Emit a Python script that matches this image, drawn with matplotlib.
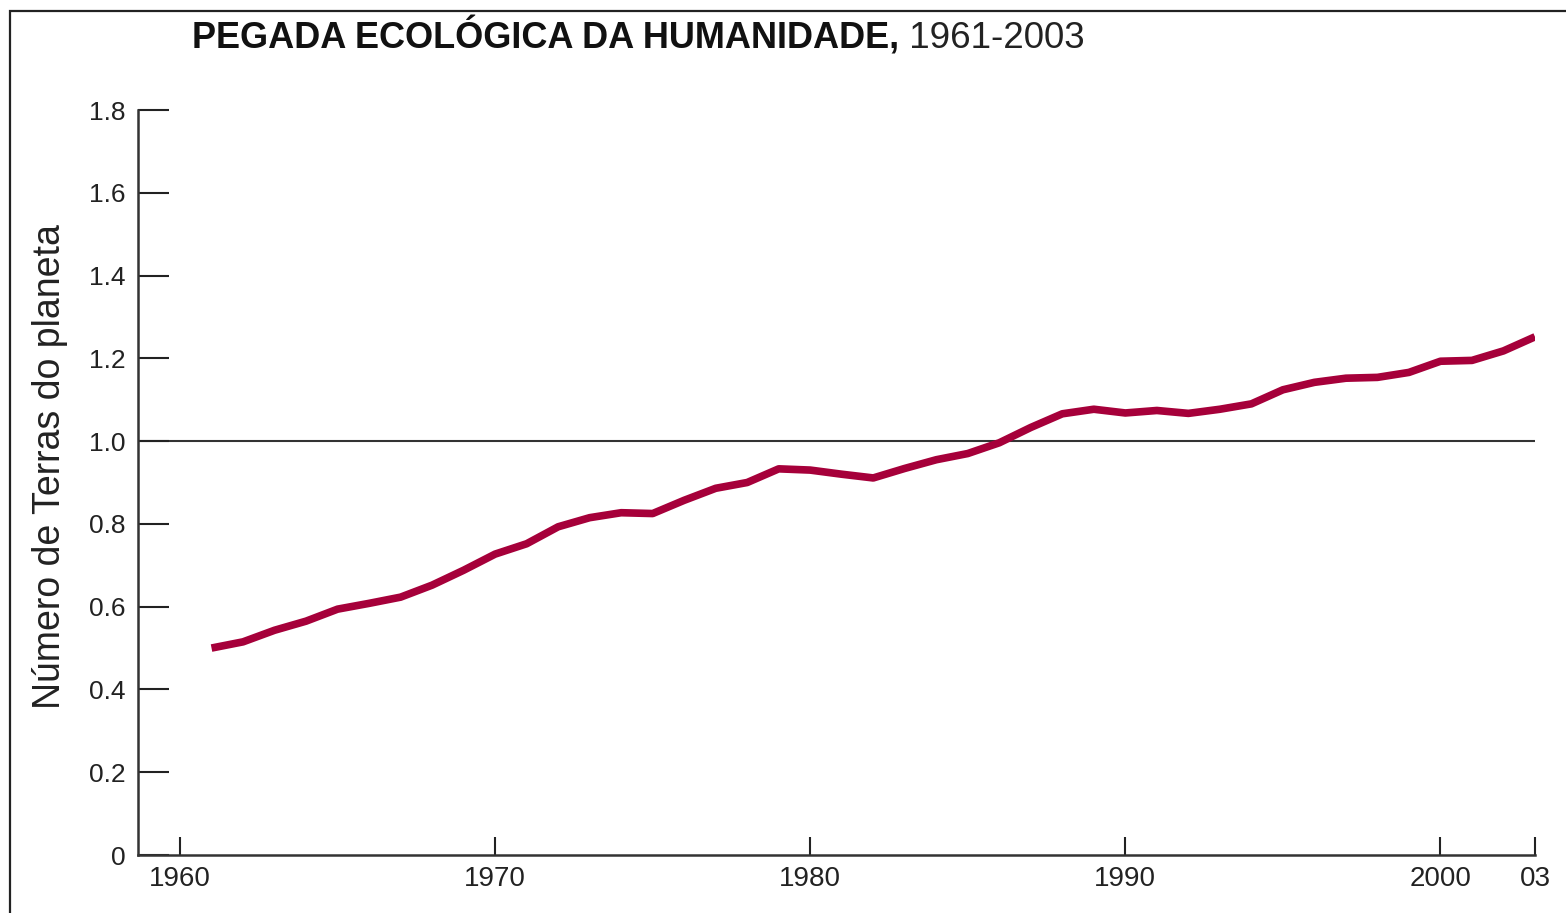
import matplotlib
matplotlib.use("Agg")
import matplotlib.pyplot as plt
from matplotlib.patches import Rectangle

years = list(range(1961, 2004))
earths = [0.500, 0.515, 0.543, 0.565, 0.594, 0.608, 0.623, 0.652, 0.688, 0.727,
          0.752, 0.793, 0.815, 0.827, 0.825, 0.857, 0.886, 0.900, 0.933, 0.930,
          0.920, 0.911, 0.934, 0.955, 0.970, 0.996, 1.033, 1.066, 1.077, 1.068,
          1.074, 1.067, 1.077, 1.090, 1.124, 1.142, 1.152, 1.154, 1.166, 1.193,
          1.195, 1.218, 1.252]
xtick_pos = [1960, 1970, 1980, 1990, 2000, 2003]
xtick_labels = ["1960", "1970", "1980", "1990", "2000", "03"]
ytick_pos = [0, 0.2, 0.4, 0.6, 0.8, 1.0, 1.2, 1.4, 1.6, 1.8]
ytick_labels = ["0", "0.2", "0.4", "0.6", "0.8", "1.0", "1.2", "1.4", "1.6", "1.8"]
title_bold = "PEGADA ECOLÓGICA DA HUMANIDADE,"
title_rest = " 1961-2003"
ylabel = "Número de Terras do planeta"

plt.rcParams['font.family'] = ['Liberation Sans', 'DejaVu Sans']

W, H = 1566, 913
fig = plt.figure(figsize=(W / 100, H / 100), dpi=100)
ax = fig.add_axes([138 / W, (H - 855) / H, (1535 - 138) / W, (855 - 110) / H])

ax.axhline(1.0, color="#333333", lw=1.5, zorder=1)
ax.plot(years, earths, color="#A6003A", lw=5.5, solid_capstyle="butt", zorder=3)

ax.set_xlim(1960 - 42 / 31.5, 2003)
ax.set_ylim(0, 1.8)
for s in ["top", "right"]:
    ax.spines[s].set_visible(False)
for s in ["left", "bottom"]:
    ax.spines[s].set_linewidth(1.8)
    ax.spines[s].set_color("#333333")

ax.set_xticks(xtick_pos)
ax.set_xticklabels(xtick_labels)
ax.set_yticks(ytick_pos)
ax.set_yticklabels(ytick_labels)
ax.tick_params(axis="y", direction="in", length=22, width=1.5, color="#222222",
               pad=9, labelsize=19, labelcolor="#222222")
ax.tick_params(axis="x", direction="in", length=13, width=1.5, color="#222222",
               pad=8, labelsize=20, labelcolor="#222222")

ax.set_ylabel(ylabel, fontsize=27, color="#222222")
ax.yaxis.set_label_coords(-0.050, 0.522)

t1 = fig.text(192 / W, (H - 48) / H, title_bold, fontsize=26, fontweight="bold",
              color="#111111", ha="left", va="baseline")
fig.canvas.draw()
bb = t1.get_window_extent()
fig.text(bb.x1 / W, (H - 48) / H, title_rest, fontsize=26.5, color="#222222",
         ha="left", va="baseline")

fig.patches.append(Rectangle((10 / W, -0.05), 1.2, (H - 11) / H + 0.05,
                             transform=fig.transFigure, fill=False,
                             edgecolor="#222222", lw=1.6))

fig.savefig("out.png", dpi=100)
